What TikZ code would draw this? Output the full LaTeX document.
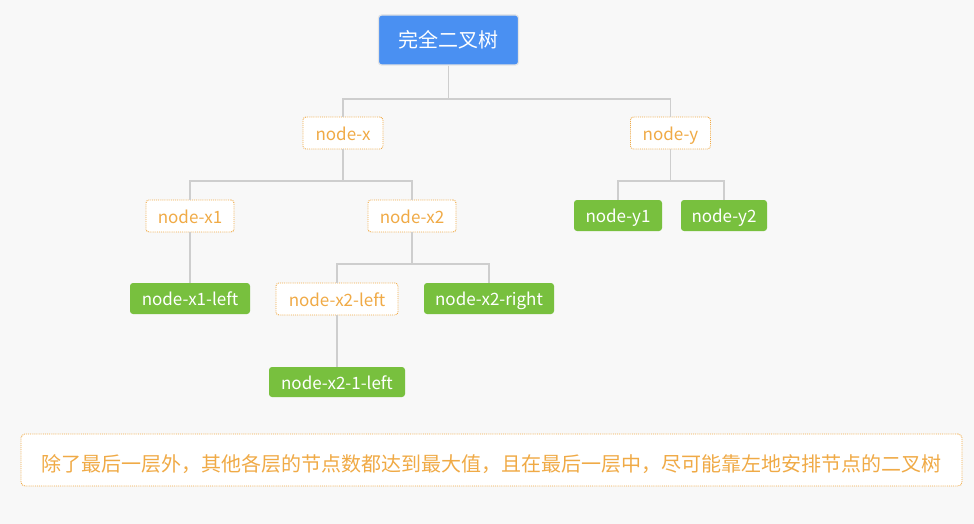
\documentclass[tikz,border=0pt]{standalone}
\usepackage{fontspec}
\setmainfont{Noto Sans CJK SC}
\usetikzlibrary{positioning}
\definecolor{bgc}{RGB}{248,248,248}
\definecolor{rootblue}{RGB}{74,144,242}
\definecolor{leafgreen}{RGB}{120,192,62}
\definecolor{orng}{RGB}{240,170,70}
\definecolor{linec}{RGB}{206,206,206}
\definecolor{shad}{RGB}{228,228,228}
\tikzset{
  base/.style={rectangle, rounded corners=3pt, inner sep=0pt, font=\fontsize{17}{19}\selectfont, text height=14pt, text depth=0pt},
  rootbox/.style={rectangle, rounded corners=3pt, inner sep=0pt, fill=rootblue, draw=shad, line width=1.2pt, text=white, minimum width=140pt, minimum height=50pt, font=\fontsize{20}{22}\selectfont},
  midbox/.style={base, fill=white, draw=orng, densely dotted, line width=0.9pt, text=orng, minimum height=32pt},
  leafbox/.style={base, fill=leafgreen, text=white, minimum height=31pt},
  noteb/.style={rectangle, rounded corners=4pt, fill=white, draw=orng, densely dotted, line width=0.9pt, minimum width=941pt, minimum height=52pt},
  conn/.style={draw=linec, line width=1.3pt}
}
\begin{document}
\begin{tikzpicture}[x=1pt,y=-1pt]
\path[fill=bgc] (0,0) rectangle (974,524);
\useasboundingbox (0,0) rectangle (974,524);
% nodes
\node[rootbox] (root) at (448.5,40) {完全二叉树};
\node[midbox, minimum width=80pt] (nx) at (343,133) {node-x};
\node[midbox, minimum width=80pt] (ny) at (670.5,133) {node-y};
\node[midbox, minimum width=88pt] (nx1) at (190,216) {node-x1};
\node[midbox, minimum width=88pt] (nx2) at (412,216) {node-x2};
\node[leafbox, minimum width=88pt] (ny1) at (618,215.5) {node-y1};
\node[leafbox, minimum width=86pt] (ny2) at (724,215.5) {node-y2};
\node[leafbox, minimum width=120pt] (nx1l) at (190,298.5) {node-x1-left};
\node[midbox, minimum width=122pt] (nx2l) at (337,299) {node-x2-left};
\node[leafbox, minimum width=130pt] (nx2r) at (489,298.5) {node-x2-right};
\node[leafbox, minimum width=136pt, minimum height=30pt] (nx21l) at (337,382) {node-x2-1-left};
% junctions
\coordinate (j0) at (root.south |- 0,99);
\coordinate (jx) at (nx.south |- 0,181);
\coordinate (jy) at (ny.south |- 0,181);
\coordinate (jx2) at (nx2.south |- 0,264);
% connectors
\draw[conn] (root.south) -- (j0) -| (nx.north);
\draw[conn] (j0) -| (ny.north);
\draw[conn] (nx.south) -- (jx) -| (nx1.north);
\draw[conn] (jx) -| (nx2.north);
\draw[conn] (ny.south) -- (jy) -| (ny1.north);
\draw[conn] (jy) -| (ny2.north);
\draw[conn] (nx1.south) -- (nx1l.north);
\draw[conn] (nx2.south) -- (jx2) -| (nx2l.north);
\draw[conn] (jx2) -| (nx2r.north);
\draw[conn] (nx2l.south) -- (nx21l.north);
% note
\node[noteb] (note) at (491.5,460) {};
\node[text=orng, font=\fontsize{20}{22}\selectfont, inner sep=0pt] (notet) at (491,464) {除了最后一层外，其他各层的节点数都达到最大值，且在最后一层中，尽可能靠左地安排节点的二叉树};
\end{tikzpicture}
\end{document}
